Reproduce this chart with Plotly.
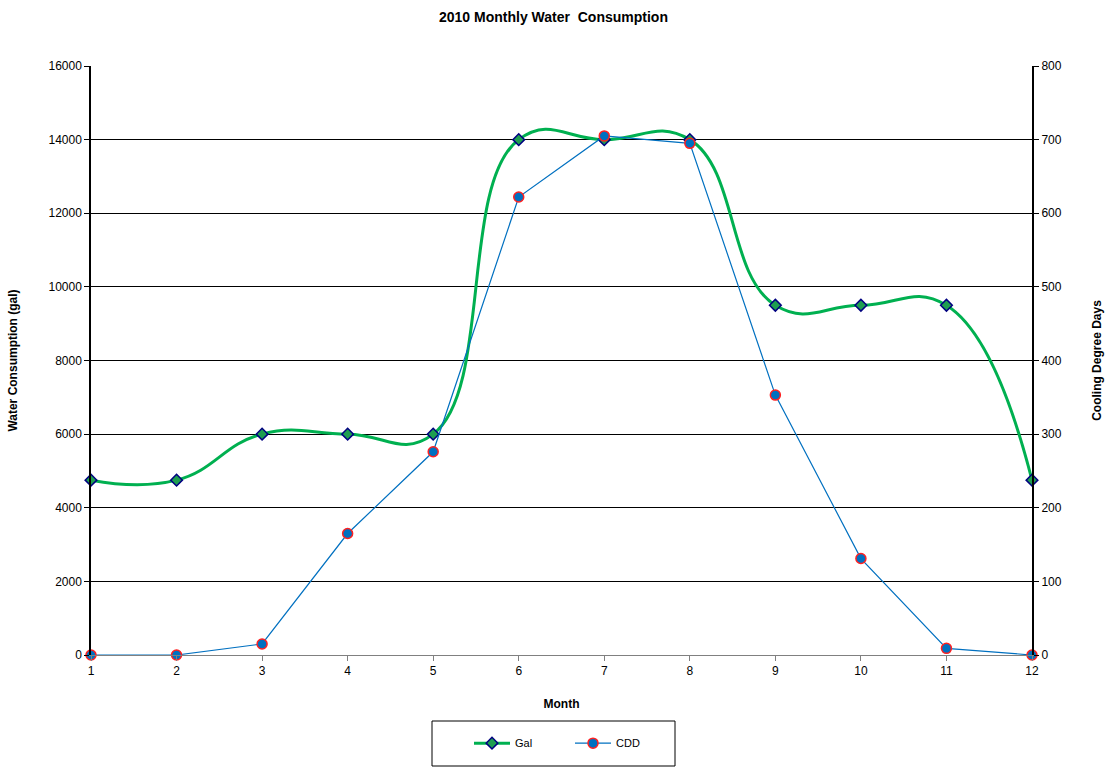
import plotly.graph_objects as go

months = [1, 2, 3, 4, 5, 6, 7, 8, 9, 10, 11, 12]
gal = [4750, 4750, 6000, 6000, 6000, 14000, 14000, 14000, 9500, 9500, 9500, 4750]
cdd = [0, 0, 15, 165, 276, 622, 705, 695, 353, 131, 9, 0]

FONT = "Liberation Sans, Arial, sans-serif"

fig = go.Figure()
fig.add_trace(go.Scatter(
    x=months, y=gal, name="Gal", mode="lines+markers",
    line=dict(color="#00B050", width=3, shape="spline", smoothing=1.3),
    marker=dict(symbol="diamond", size=9, color="#1E9E50",
                line=dict(color="#000080", width=1.5)),
    cliponaxis=False, yaxis="y"))
fig.add_trace(go.Scatter(
    x=months, y=cdd, name="CDD", mode="lines+markers",
    line=dict(color="#0070C0", width=1.2),
    marker=dict(symbol="circle", size=10, color="#0070C0",
                line=dict(color="#FF2020", width=1.5)),
    cliponaxis=False, yaxis="y2"))

fig.update_layout(
    width=1107, height=767,
    margin=dict(l=91, r=75, t=66, b=112, autoexpand=False),
    paper_bgcolor="white", plot_bgcolor="white",
    font=dict(family=FONT, size=12, color="black"),
    title=dict(text="<b>2010 Monthly Water  Consumption</b>", x=0.5, xanchor="center",
               y=1 - 17 / 767, yanchor="middle", font=dict(size=14)),
    xaxis=dict(range=[1, 12], tickvals=months, ticktext=[str(m) for m in months],
               showgrid=False, zeroline=False, showline=True, linecolor="#808080",
               linewidth=1, ticks="outside", ticklen=5, tickcolor="#808080", automargin=False,
               title=dict(text="<b>Month</b>", font=dict(size=12), standoff=22)),
    yaxis=dict(range=[0, 16000], dtick=2000, tickformat="d", showgrid=True, gridcolor="black",
               gridwidth=1, zeroline=False, showline=True, linecolor="black", automargin=False,
               linewidth=1.5, ticks="outside", ticklen=5, tickcolor="black",
               title=dict(text="<b>Water Consumption (gal)</b>", font=dict(size=12), standoff=28)),
    yaxis2=dict(range=[0, 800], dtick=100, overlaying="y", side="right", automargin=False,
                showgrid=False, zeroline=False, showline=True, linecolor="black",
                linewidth=2, ticks="outside", ticklen=5, tickcolor="black",
                title=dict(text="<b>Cooling Degree Days</b>", font=dict(size=12), standoff=32)),
    legend=dict(orientation="h", x=(570 - 91) / 941, xanchor="center", y=-0.125, yanchor="top",
                bgcolor="rgba(0,0,0,0)", borderwidth=0, font=dict(size=11),
                entrywidth=50, itemwidth=36),
    showlegend=True,
)

# legend frame
fig.add_shape(type="rect", xref="paper", yref="paper",
              x0=(432 - 91) / 941, x1=(675 - 91) / 941,
              y0=-(766 - 655) / 589, y1=-(721 - 655) / 589,
              line=dict(color="black", width=1), fillcolor="rgba(0,0,0,0)")

fig.write_html("out.html")
